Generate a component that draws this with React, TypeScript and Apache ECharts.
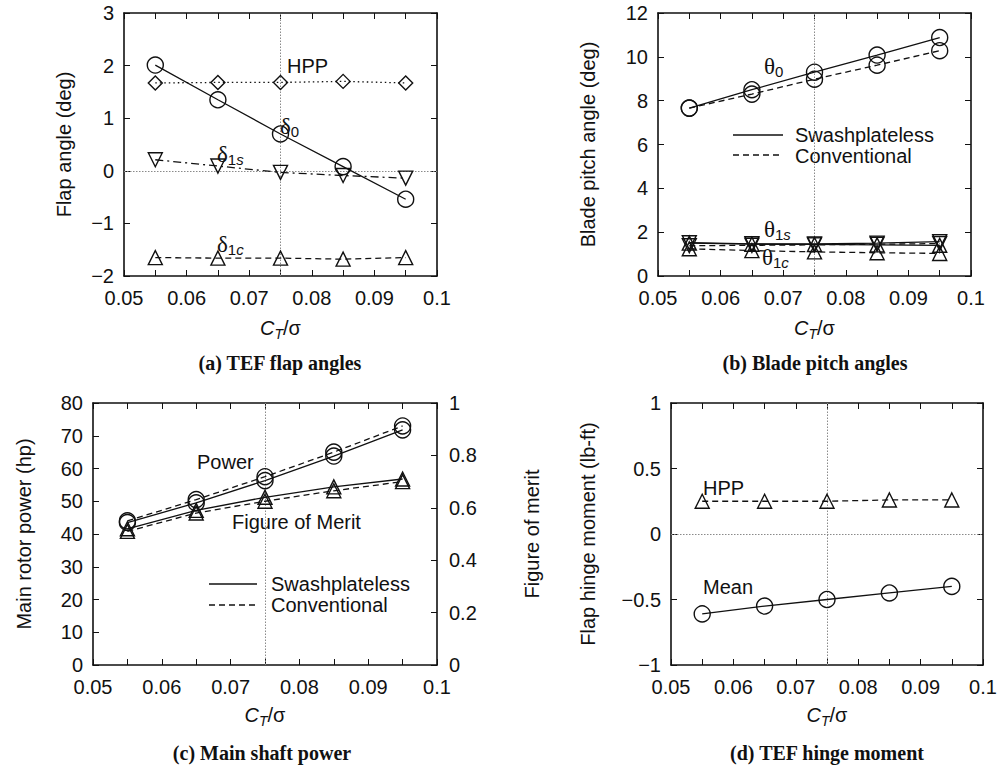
import React, { useEffect, useRef } from "react";
import * as echarts from "echarts";

// ---- data ----
const CT = [0.055, 0.065, 0.075, 0.085, 0.095];
const X_TICK_LABELS = ["0.05", "0.06", "0.07", "0.08", "0.09", "0.1"];
const REF_CT = 0.075;

// (a) TEF flap angles (deg)
const delta0 = [2.01, 1.35, 0.7, 0.08, -0.54];
const deltaHPP = [1.67, 1.68, 1.68, 1.7, 1.67];
const delta1s = [0.21, 0.09, -0.03, -0.09, -0.14];
const delta1c = [-1.65, -1.66, -1.66, -1.68, -1.65];

// (b) blade pitch angles (deg)
const theta0Sw = [7.66, 8.5, 9.3, 10.08, 10.88];
const theta0Conv = [7.66, 8.3, 8.98, 9.62, 10.28];
const theta1sSw = [1.52, 1.47, 1.46, 1.5, 1.57];
const theta1sConv = [1.38, 1.4, 1.42, 1.45, 1.48];
const theta1cSw = [1.5, 1.45, 1.44, 1.42, 1.4];
const theta1cConv = [1.24, 1.16, 1.1, 1.06, 1.03];

// (c) main shaft power (hp) and figure of merit
const powerSw = [43.5, 49.5, 56.3, 63.8, 71.8];
const powerConv = [44, 50.5, 57.5, 65, 73];
const fmSw = [0.52, 0.59, 0.64, 0.68, 0.71];
const fmConv = [0.51, 0.58, 0.625, 0.665, 0.7];

// (d) TEF hinge moment (lb-ft)
const hingeHPP = [0.25, 0.25, 0.25, 0.26, 0.26];
const hingeMean = [-0.61, -0.55, -0.5, -0.45, -0.4];

const SANS = "'Liberation Sans', Arial, sans-serif";
const SERIF = "'Liberation Serif', 'Times New Roman', serif";
const INK = "#111111";

const minusFmt = (v: number) => {
  const r = Math.round(v * 1000) / 1000;
  return r < 0 ? "\u2212" + String(Math.abs(r)) : String(r);
};
const xFmt = (v: number) => {
  const idx = Math.round((v - 0.05) / 0.01);
  return X_TICK_LABELS[idx] ?? "";
};

const ctRich = {
  i: { fontStyle: "italic", fontSize: 20, fontFamily: SANS, color: INK, lineHeight: 26 },
  s: { fontStyle: "italic", fontSize: 14, fontFamily: SANS, color: INK, lineHeight: 12, verticalAlign: "bottom" },
  n: { fontSize: 20, fontFamily: SANS, color: INK, lineHeight: 26 },
};

function xAxesFor(g: number, gap: number) {
  const common = {
    type: "value",
    gridIndex: g,
    min: 0.05,
    max: 0.1,
    interval: 0.01,
    axisLine: { show: true, onZero: false, lineStyle: { color: INK, width: 1.6 } },
    axisTick: { show: true, inside: true, length: 6, lineStyle: { color: INK, width: 1 } },
    minorTick: { show: true, splitNumber: 2, length: 6, lineStyle: { color: INK, width: 1 } },
    splitLine: { show: false },
    minorSplitLine: { show: false },
  };
  return [
    {
      ...common,
      position: "bottom",
      axisLabel: { color: INK, fontSize: 20, fontFamily: SANS, margin: 12, formatter: xFmt },
      name: "{i|C}{s|T}{n|/σ}",
      nameLocation: "middle",
      nameGap: gap,
      nameTextStyle: { rich: ctRich },
    },
    { ...common, position: "top", axisLabel: { show: false } },
  ];
}

function yAxesFor(
  g: number,
  min: number,
  max: number,
  interval: number,
  name: string,
  gap: number,
  right?: { name: string; gap: number; min: number; max: number; interval: number }
) {
  const common = {
    type: "value",
    gridIndex: g,
    axisLine: { show: true, onZero: false, lineStyle: { color: INK, width: 1.6 } },
    axisTick: { show: true, inside: true, length: 6, lineStyle: { color: INK, width: 1 } },
    splitLine: { show: false },
  };
  const left = {
    ...common,
    position: "left",
    min,
    max,
    interval,
    axisLabel: { color: INK, fontSize: 20, fontFamily: SANS, margin: 10, formatter: minusFmt },
    name,
    nameLocation: "middle",
    nameGap: gap,
    nameTextStyle: { color: INK, fontSize: 20, fontFamily: SANS },
  };
  const r = right
    ? {
        ...common,
        position: "right",
        min: right.min,
        max: right.max,
        interval: right.interval,
        axisLabel: { color: INK, fontSize: 20, fontFamily: SANS, margin: 12, formatter: minusFmt },
        name: right.name,
        nameLocation: "middle",
        nameGap: right.gap,
        nameTextStyle: { color: INK, fontSize: 20, fontFamily: SANS },
      }
    : { ...common, position: "right", min, max, interval, axisLabel: { show: false } };
  return [left, r];
}

const DASH = [6, 4];
const DOT = [1.5, 3];
const DASHDOT = [8, 4, 2, 4];

function ser(
  g: number,
  values: number[],
  symbol: string,
  lineType: any,
  opts: { right?: boolean; rotate?: number; size?: number; vline?: boolean; hline?: boolean } = {}
) {
  const s: any = {
    type: "line",
    xAxisIndex: 2 * g,
    yAxisIndex: 2 * g + (opts.right ? 1 : 0),
    data: CT.map((x, i) => [x, values[i]]),
    symbol,
    symbolSize: opts.size ?? 14,
    symbolRotate: opts.rotate ?? 0,
    showSymbol: true,
    silent: true,
    lineStyle: { color: INK, width: 1.3, type: lineType },
    itemStyle: { color: "rgba(255,255,255,0)", borderColor: INK, borderWidth: 1.4 },
    emphasis: { disabled: true },
    z: 3,
  };
  const ml: any[] = [];
  if (opts.vline) ml.push({ xAxis: REF_CT });
  if (opts.hline) ml.push({ yAxis: 0 });
  if (ml.length) {
    s.markLine = {
      silent: true,
      precision: 6,
      symbol: ["none", "none"],
      label: { show: false },
      lineStyle: { color: "#8a8a8a", type: [1.5, 1.5], width: 1 },
      data: ml,
      z: 1,
    };
  }
  return s;
}

function txt(x: number, y: number, text: string, extra: any = {}) {
  return {
    type: "text",
    x,
    y,
    silent: true,
    style: {
      text,
      fill: INK,
      fontSize: 20,
      fontFamily: SANS,
      align: "left",
      verticalAlign: "middle",
      ...extra,
    },
  };
}

const greekRich = {
  g: { fontFamily: SERIF, fontSize: 23, fill: INK, color: INK, lineHeight: 26 },
  s: { fontFamily: SANS, fontSize: 15, fill: INK, color: INK, lineHeight: 12, verticalAlign: "bottom" },
  si: { fontFamily: SANS, fontStyle: "italic", fontSize: 15, fill: INK, color: INK, lineHeight: 12, verticalAlign: "bottom" },
};

function greek(x: number, y: number, text: string) {
  return txt(x, y, text, { rich: greekRich });
}

function legendLine(x1: number, x2: number, y: number, dash: any) {
  return {
    type: "line",
    silent: true,
    shape: { x1, y1: y, x2, y2: y },
    style: { stroke: INK, lineWidth: 1.3, lineDash: dash },
  };
}

function caption(cx: number, y: number, text: string) {
  return txt(cx, y, text, { fontFamily: SERIF, fontWeight: "bold", fontSize: 20, align: "center" });
}

export default function App() {
  const ref = useRef<HTMLDivElement>(null);
  useEffect(() => {
    if (!ref.current) return;
    const chart = echarts.init(ref.current, null, { renderer: "svg" });
    const option: any = {
      animation: false,
      backgroundColor: "#ffffff",
      grid: [
        { left: 124, top: 13, width: 313, height: 263 },
        { left: 658, top: 13, width: 313, height: 263 },
        { left: 93, top: 403, width: 344, height: 262 },
        { left: 671, top: 403, width: 312, height: 262 },
      ],
      xAxis: [...xAxesFor(0, 39), ...xAxesFor(1, 39), ...xAxesFor(2, 37), ...xAxesFor(3, 37)],
      yAxis: [
        ...yAxesFor(0, -2, 3, 1, "Flap angle (deg)", 50),
        ...yAxesFor(1, 0, 12, 2, "Blade pitch angle (deg)", 60),
        ...yAxesFor(2, 0, 80, 10, "Main rotor power (hp)", 59, {
          name: "Figure of merit",
          gap: 85,
          min: 0,
          max: 1,
          interval: 0.2,
        }),
        ...yAxesFor(3, -1, 1, 0.5, "Flap hinge moment (lb-ft)", 73),
      ],
      series: [
        // (a)
        ser(0, deltaHPP, "diamond", DOT, { size: 14, vline: true, hline: true }),
        ser(0, delta0, "circle", "solid", { size: 16 }),
        ser(0, delta1s, "triangle", DASHDOT, { rotate: 180 }),
        ser(0, delta1c, "triangle", DASH),
        // (b)
        ser(1, theta0Sw, "circle", "solid", { size: 16, vline: true }),
        ser(1, theta0Conv, "circle", DASH, { size: 16 }),
        ser(1, theta1sSw, "triangle", "solid", { rotate: 180 }),
        ser(1, theta1sConv, "triangle", DASH, { rotate: 180 }),
        ser(1, theta1cSw, "triangle", "solid"),
        ser(1, theta1cConv, "triangle", DASH),
        // (c)
        ser(2, powerSw, "circle", "solid", { size: 16, vline: true }),
        ser(2, powerConv, "circle", DASH, { size: 16 }),
        ser(2, fmSw, "triangle", "solid", { right: true }),
        ser(2, fmConv, "triangle", DASH, { right: true }),
        // (d)
        ser(3, hingeHPP, "triangle", DASH, { vline: true, hline: true }),
        ser(3, hingeMean, "circle", "solid", { size: 16 }),
      ],
      graphic: [
        // (a) annotations
        txt(287, 66, "HPP"),
        greek(280, 126, "{g|δ}{s|0}"),
        greek(217, 154, "{g|δ}{s|1}{si|s}"),
        greek(217, 244, "{g|δ}{s|1}{si|c}"),
        caption(280, 363, "(a) TEF flap angles"),
        // (b)
        greek(764, 66, "{g|θ}{s|0}"),
        greek(764, 229, "{g|θ}{s|1}{si|s}"),
        greek(762, 257, "{g|θ}{s|1}{si|c}"),
        legendLine(733, 783, 135, null),
        legendLine(733, 783, 155, DASH),
        txt(795, 135, "Swashplateless"),
        txt(795, 156, "Conventional"),
        caption(815, 363, "(b) Blade pitch angles"),
        // (c)
        txt(197, 462, "Power"),
        txt(232, 522, "Figure of Merit"),
        legendLine(209, 257, 584, null),
        legendLine(209, 257, 605, DASH),
        txt(271, 584, "Swashplateless"),
        txt(271, 605, "Conventional"),
        caption(262, 753, "(c) Main shaft power"),
        // (d)
        txt(703, 488, "HPP"),
        txt(703, 587, "Mean"),
        caption(827, 753, "(d) TEF hinge moment"),
      ],
    };
    chart.setOption(option);
    return () => chart.dispose();
  }, []);
  return (
    <div
      ref={ref}
      style={{ position: "fixed", left: 0, top: 0, width: 1000, height: 767, background: "#fff" }}
    />
  );
}
